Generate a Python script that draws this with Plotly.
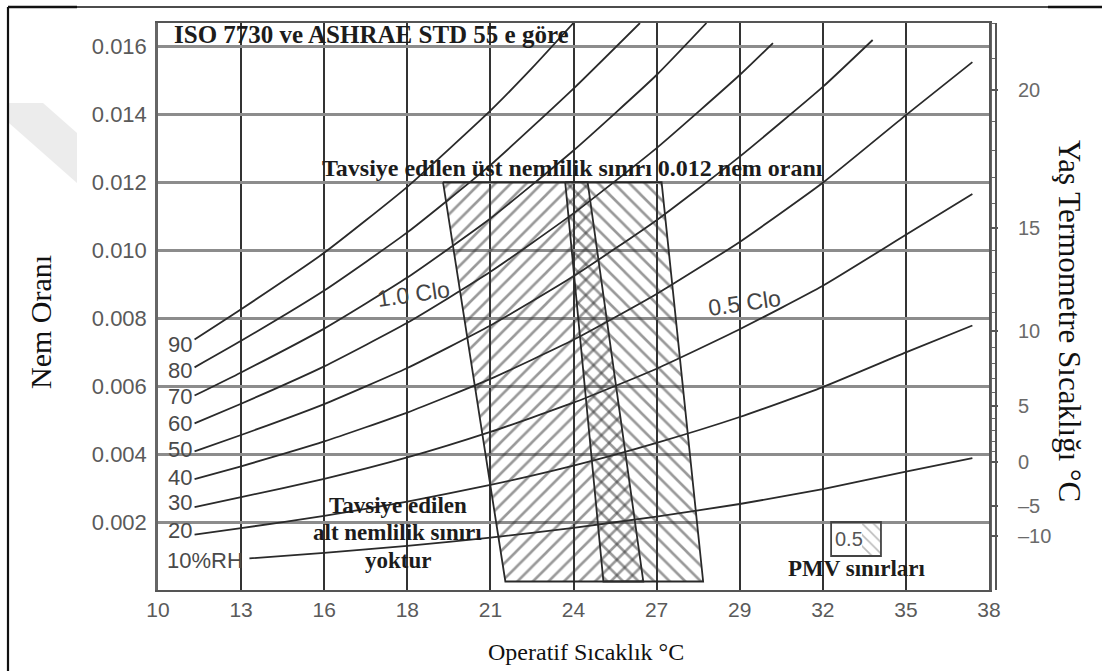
import plotly.graph_objects as go

# ---- axis ticks -------------------------------------------------------------
# operative temperature axis runs linearly in °F, labelled with rounded °C
temp_ticks_f = [50, 55, 60, 65, 70, 75, 80, 85, 90, 95, 100]
temp_labels_c = ["10", "13", "16", "18", "21", "24", "27", "29", "32", "35", "38"]

w_ticks = [0.002, 0.004, 0.006, 0.008, 0.010, 0.012, 0.014, 0.016]
w_labels = ["0.002", "0.004", "0.006", "0.008", "0.010", "0.012", "0.014", "0.016"]

# wet-bulb scale on the right: positions on the humidity-ratio axis
wb_major_w = [0.00160, 0.00247, 0.00378, 0.00540, 0.00763, 0.01065, 0.01470]
wb_major_labels = ["–10", "–5", "0", "5", "10", "15", "20"]
wb_minor_w = [0.00406, 0.00436, 0.00469, 0.00504,
              0.00580, 0.00621, 0.00666, 0.00713,
              0.00817, 0.00873, 0.00934, 0.00998,
              0.01136, 0.01213, 0.01294, 0.01379,
              0.01565, 0.01667]

# ---- relative humidity curves (temperature °F, humidity ratio kg/kg) --------
rh90_t = [52.2, 55, 60, 65, 70, 72.5, 75.0]
rh90_w = [0.00737, 0.00826, 0.00992, 0.01186, 0.01410, 0.01535, 0.01668]
rh80_t = [52.2, 55, 60, 65, 70, 75, 79.0]
rh80_w = [0.00655, 0.00733, 0.00881, 0.01052, 0.01250, 0.01475, 0.01668]
rh70_t = [52.2, 55, 60, 65, 70, 75, 80, 83.0]
rh70_w = [0.00572, 0.00640, 0.00769, 0.00919, 0.01093, 0.01293, 0.01515, 0.01668]
rh60_t = [52.2, 55, 60, 65, 70, 75, 80, 85, 87.0]
rh60_w = [0.00490, 0.00548, 0.00658, 0.00786, 0.00936, 0.01108, 0.01300, 0.01515, 0.01609]
rh50_t = [52.2, 55, 60, 65, 70, 75, 80, 85, 90, 93.0]
rh50_w = [0.00408, 0.00456, 0.00547, 0.00653, 0.00778, 0.00923, 0.01088, 0.01275, 0.01480, 0.01618]
rh40_t = [52.2, 55, 60, 65, 70, 75, 80, 85, 90, 95, 99.0]
rh40_w = [0.00326, 0.00364, 0.00437, 0.00522, 0.00621, 0.00736, 0.00871, 0.01024, 0.01198, 0.01397, 0.01553]
rh30_t = [52.2, 55, 60, 65, 70, 75, 80, 85, 90, 95, 99.0]
rh30_w = [0.00244, 0.00273, 0.00327, 0.00390, 0.00465, 0.00551, 0.00651, 0.00767, 0.00895, 0.01045, 0.01165]
rh20_t = [52.2, 55, 60, 65, 70, 75, 80, 85, 90, 95, 99.0]
rh20_w = [0.00163, 0.00182, 0.00218, 0.00260, 0.00309, 0.00366, 0.00433, 0.00509, 0.00597, 0.00699, 0.00778]
rh10_t = [55.5, 60, 65, 70, 75, 80, 85, 90, 95, 99.0]
rh10_w = [0.00093, 0.00109, 0.00130, 0.00154, 0.00183, 0.00216, 0.00253, 0.00297, 0.00348, 0.00388]

rh_labels = ["90", "80", "70", "60", "50", "40", "30", "20", "10%RH"]

# ---- comfort zones -----------------------------------------------------------
zone_top_w = 0.012
zone_bottom_w = 0.00025
clo10_t = [67.15, 75.85, 79.2, 70.9]     # 1.0 clo: top-left, top-right, bottom-right, bottom-left
clo05_t = [74.5, 80.3, 82.8, 76.8]       # 0.5 clo

pmv_box_t = [90.5, 93.5]
pmv_box_w = [0.0010, 0.0020]

INK = "#2a2a2a"
SERIF = "Liberation Serif, Times New Roman, serif"
SANS = "Liberation Sans, Arial, sans-serif"

fig = go.Figure()

rh_series = [(rh90_t, rh90_w), (rh80_t, rh80_w), (rh70_t, rh70_w), (rh60_t, rh60_w),
             (rh50_t, rh50_w), (rh40_t, rh40_w), (rh30_t, rh30_w), (rh20_t, rh20_w),
             (rh10_t, rh10_w)]
for t, w in rh_series:
    fig.add_trace(go.Scatter(x=t, y=w, mode="lines",
                             line=dict(color=INK, width=1.8, shape="spline", smoothing=0.5),
                             hoverinfo="skip", showlegend=False))


def zone(ts, pattern):
    xs = ts + [ts[0]]
    ys = [zone_top_w, zone_top_w, zone_bottom_w, zone_bottom_w, zone_top_w]
    return go.Scatter(x=xs, y=ys, mode="lines", fill="toself",
                      fillcolor="rgba(0,0,0,0)",
                      fillpattern=dict(shape=pattern, fgcolor="#333333",
                                       bgcolor="rgba(0,0,0,0)", size=11, solidity=0.24),
                      line=dict(color=INK, width=1.8),
                      hoverinfo="skip", showlegend=False)


fig.add_trace(zone(clo10_t, "/"))
fig.add_trace(zone(clo05_t, "\\"))

# small PMV legend swatch, hatched on its right side
sw_left = pmv_box_t[0] + 0.62 * (pmv_box_t[1] - pmv_box_t[0])
fig.add_trace(go.Scatter(
    x=[sw_left, pmv_box_t[1], pmv_box_t[1], sw_left, sw_left],
    y=[pmv_box_w[0], pmv_box_w[0], pmv_box_w[1], pmv_box_w[1], pmv_box_w[0]],
    mode="lines", fill="toself", fillcolor="rgba(0,0,0,0)",
    fillpattern=dict(shape="\\", fgcolor="#777", bgcolor="rgba(0,0,0,0)", size=8, solidity=0.2),
    line=dict(width=0), hoverinfo="skip", showlegend=False))
fig.add_shape(type="rect", xref="x", yref="y",
              x0=pmv_box_t[0], x1=pmv_box_t[1], y0=pmv_box_w[0], y1=pmv_box_w[1],
              line=dict(color="#444", width=1.8))

# dummy trace so the wet-bulb axis is drawn
fig.add_trace(go.Scatter(x=[None], y=[None], yaxis="y2", showlegend=False, hoverinfo="skip"))

# ---- text -------------------------------------------------------------------
def note(x, y, text, size=24, family=SERIF, color="#1c1c1c", angle=0, xanchor="center"):
    fig.add_annotation(x=x, y=y, xref="x", yref="y", text=text, showarrow=False,
                       textangle=angle, xanchor=xanchor, yanchor="middle",
                       font=dict(family=family, size=size, color=color))


note(50.84, 0.01635, "<b>ISO 7730 ve ASHRAE STD 55 e göre</b>", size=25, xanchor="left")
note(74.91, 0.01241, "<b>Tavsiye edilen üst nemlilik sınırı 0.012 nem oranı</b>", size=24)
note(64.44, 0.00250, "<b>Tavsiye edilen</b>", size=23)
note(64.44, 0.00168, "<b>alt nemlilik sınırı</b>", size=23)
note(64.44, 0.00088, "<b>yoktur</b>", size=23)
note(92.06, 0.00062, "<b>PMV sınırları</b>", size=23)
note(91.6, 0.00150, "0.5", size=20, family=SANS, color="#555")
note(65.4, 0.00871, "1.0 Clo", size=23, family=SANS, color="#444", angle=-8)
note(85.26, 0.00844, "0.5 Clo", size=23, family=SANS, color="#444", angle=-8)

rh_label_w = [0.00721, 0.00647, 0.00568, 0.00491, 0.00412, 0.00332, 0.00256, 0.00176, 0.00088]
for lab, wy in zip(rh_labels, rh_label_w):
    if lab.endswith("RH"):
        note(50.42, wy, lab, size=22, family=SANS, color="#4a4a4a", xanchor="left")
    else:
        note(51.32, wy, lab, size=22, family=SANS, color="#4a4a4a")

# axis titles
fig.add_annotation(x=-0.1408, y=0.4727, xref="paper", yref="paper", text="Nem Oranı",
                   textangle=-90, showarrow=False, xanchor="center", yanchor="middle",
                   font=dict(family=SERIF, size=30, color="#111"))
fig.add_annotation(x=0.515, y=-0.1093, xref="paper", yref="paper", text="Operatif Sıcaklık °C",
                   showarrow=False, xanchor="center", yanchor="middle",
                   font=dict(family=SERIF, size=24, color="#111"))
fig.add_annotation(x=1.0975, y=0.4744, xref="paper", yref="paper",
                   text="Yaş Termometre Sıcaklığı °C", xanchor="center", yanchor="middle",
                   textangle=90, showarrow=False, font=dict(family=SERIF, size=31, color="#111"))

# second rule of the right-hand scale
fig.add_shape(type="line", xref="paper", yref="paper", x0=1 + 7 / 831, x1=1 + 7 / 831,
              y0=0, y1=1, line=dict(color="#555", width=2))

# page frame and faint mark at the upper left
px = lambda p: (p - 158) / 831
py = lambda p: (590 - p) / 567
fig.add_shape(type="path", xref="paper", yref="paper", layer="below",
              path=f"M {px(9)},{py(103)} L {px(43)},{py(103)} L {px(77)},{py(133)} "
                   f"L {px(77)},{py(183)} L {px(9)},{py(123)} Z",
              fillcolor="#ececec", line=dict(width=0))
fig.add_shape(type="line", xref="paper", yref="paper", x0=px(8), x1=px(1102), y0=py(7), y1=py(7),
              line=dict(color="#111", width=1.5))
fig.add_shape(type="line", xref="paper", yref="paper", x0=px(8), x1=px(77), y0=py(7), y1=py(7),
              line=dict(color="#111", width=2.5))
fig.add_shape(type="line", xref="paper", yref="paper", x0=px(1048), x1=px(1102), y0=py(7), y1=py(7),
              line=dict(color="#111", width=2.5))
fig.add_shape(type="line", xref="paper", yref="paper", x0=px(8), x1=px(8), y0=py(7), y1=py(671),
              line=dict(color="#111", width=2.2))

fig.update_layout(
    width=1102, height=671,
    margin=dict(l=158, r=113, t=23, b=81, autoexpand=False),
    paper_bgcolor="white", plot_bgcolor="white",
    showlegend=False,
    xaxis=dict(range=[50, 100], tickvals=temp_ticks_f, ticktext=temp_labels_c,
               showgrid=True, gridcolor="#333333", gridwidth=2,
               showline=True, linecolor="#555", linewidth=2, mirror=True,
               zeroline=False, ticks="", ticklabelstandoff=0,
               tickfont=dict(family=SANS, size=21, color="#5a5a5a")),
    yaxis=dict(range=[0, 0.01668], tickvals=w_ticks, ticktext=w_labels,
               showgrid=True, gridcolor="#8c8c8c", gridwidth=2.5,
               showline=True, linecolor="#666", linewidth=2.5, mirror=True,
               zeroline=False, ticks="", ticklabelstandoff=4,
               tickfont=dict(family=SANS, size=22, color="#5a5a5a")),
    yaxis2=dict(range=[0, 0.01668], overlaying="y", side="right", anchor="x",
                tickvals=wb_major_w, ticktext=wb_major_labels,
                ticks="outside", ticklen=7, tickwidth=1.5, tickcolor="#555",
                minor=dict(tickvals=wb_minor_w, ticks="outside", ticklen=4,
                           tickwidth=1, tickcolor="#666"),
                showgrid=False, zeroline=False, showline=True, linecolor="#555", linewidth=2,
                ticklabelstandoff=16,
                tickfont=dict(family=SANS, size=20, color="#6a6a6a")),
)

fig.write_html("out.html")
